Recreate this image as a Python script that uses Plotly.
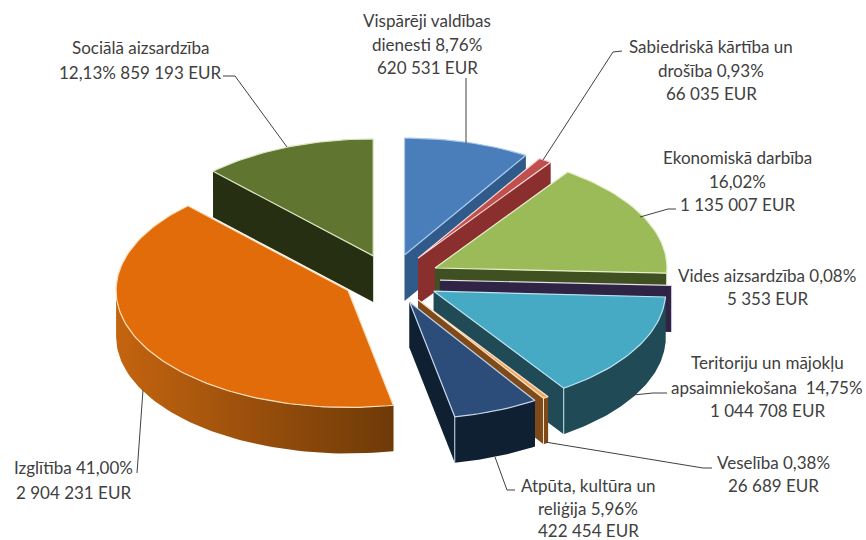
import math
import plotly.graph_objects as go

names = ["Vispārēji valdības dienesti", "Sabiedriskā kārtība un drošība", "Ekonomiskā darbība",
         "Vides aizsardzība", "Teritoriju un mājokļu apsaimniekošana", "Veselība",
         "Atpūta, kultūra un reliģija", "Izglītība", "Sociālā aizsardzība"]
values = [620531, 66035, 1135007, 5353, 1044708, 26689, 422454, 2904231, 859193]

label_lines = [
    ["Vispārēji valdības", "dienesti 8,76%", "620 531 EUR"],
    ["Sabiedriskā kārtība un", "drošība 0,93%", "66 035 EUR"],
    ["Ekonomiskā darbība", "16,02%", "1 135 007 EUR"],
    ["Vides aizsardzība 0,08%", "5 353 EUR"],
    ["Teritoriju un mājokļu", "apsaimniekošana  14,75%", "1 044 708 EUR"],
    ["Veselība 0,38%", "26 689 EUR"],
    ["Atpūta, kultūra un", "reliģija 5,96%", "422 454 EUR"],
    ["Izglītība 41,00%", "2 904 231 EUR"],
    ["Sociālā aizsardzība", "12,13% 859 193 EUR"],
]

# styling (top, cut face, wall left, wall right, edge)
top_col = ["#4A7EBB", "#C0504D", "#9BBB59", "#8064A2", "#46AAC5", "#F0A860", "#2C4D7A", "#E36C0A", "#5F7530"]
cut_col = ["#2F5A8A", "#8B2F2E", "#3F5120", "#2F2445", "#1F4A56", "#7F4A1A", "#0F2033", "#8A4408", "#272F12"]
wall_l = ["#2F5A8A", "#8B2F2E", "#4A6226", "#2F2445", "#1F4A56", "#7F4A1A", "#0F2033", "#C4640F", "#272F12"]
wall_r = ["#2F5A8A", "#8B2F2E", "#4A6226", "#2F2445", "#1F4A56", "#7F4A1A", "#0F2033", "#6E3A08", "#272F12"]
edge_col = ["#A9C8EE", "#F6DAD8", "#E6EFCE", "#E4E0E8", "#BFE3EE", "#FBE3CA", "#C8D6EA", "#FBE0BE", "#DCE6C4"]
draw_order = [0, 1, 2, 3, 4, 5, 6, 8, 7]

CX, CY = 391.3, 279.0     # pie centre in page pixels
RX, RY = 232.0, 117.0     # ellipse radii
EX, EY = 48.7, 24.9       # explosion offset
DEPTH = 46.0

leaders = [
    [(466, 78), (466, 143)],
    [(622, 51), (613, 52), (543, 160)],
    [(676, 209), (668, 209), (640, 217)],
    [(667, 393), (653, 393), (633, 395)],
    [(545, 442), (703, 468), (712, 468)],
    [(495, 457), (507, 490), (515, 490)],
    [(143, 390), (138, 460), (137, 473)],
    [(223, 76), (235, 76), (287, 147)],
]
label_pos = [
    (427, [20, 44, 67]),
    (711, [46, 70, 93]),
    (737, [157, 181, 204]),
    (767, [275, 298]),
    (767, [362, 387, 410]),
    (773, [462, 485]),
    (588, [485, 508, 530]),
    (73, [467, 492]),
    (140, [47, 72]),
]
FONT = dict(family="Lato", size=17, color="#404040")

total = sum(values)
fig = go.Figure()


def poly(xs, ys, fill=None, line=None, width=0, grad=None):
    kw = dict(x=xs, y=ys, mode="lines", hoverinfo="skip", showlegend=False,
              line=dict(color=line or "rgba(0,0,0,0)", width=width))
    if fill or grad:
        kw["fill"] = "toself"
        kw["fillcolor"] = fill
    if grad:
        kw["fillgradient"] = dict(type="horizontal", colorscale=[[0, grad[0]], [1, grad[1]]])
    fig.add_trace(go.Scatter(**kw))


cum = [0]
for v in values:
    cum.append(cum[-1] + v)

for i in draw_order:
    a0 = cum[i] / total * 2 * math.pi
    a1 = cum[i + 1] / total * 2 * math.pi
    m = (a0 + a1) / 2
    ax = CX + EX * math.sin(m)
    ay = CY - EY * math.cos(m)
    n = max(3, int((a1 - a0) * 40))
    ang = [a0 + (a1 - a0) * k / n for k in range(n + 1)]
    ex = [ax + RX * math.sin(t) for t in ang]
    ey = [ay - RY * math.cos(t) for t in ang]
    # cut faces
    for j in (0, -1):
        poly([ax, ex[j], ex[j], ax, ax], [ay, ey[j], ey[j] + DEPTH, ay + DEPTH, ay], fill=cut_col[i])
    # outer wall: only the part facing the viewer (angle between 90 and 270 degrees)
    lo, hi = max(a0, math.pi / 2), min(a1, 3 * math.pi / 2)
    if hi > lo:
        wa = [lo + (hi - lo) * k / 60 for k in range(61)]
        wx = [ax + RX * math.sin(t) for t in wa]
        wy = [ay - RY * math.cos(t) for t in wa]
        poly(wx + wx[::-1] + wx[:1], wy + [y + DEPTH for y in wy[::-1]] + wy[:1],
             fill=wall_r[i], grad=(wall_l[i], wall_r[i]))
    # front corner
    if math.pi / 2 < a1 < math.pi:
        poly([ex[-1], ex[-1]], [ey[-1], ey[-1] + DEPTH], line=edge_col[i], width=1)
    # top face
    poly([ax] + ex + [ax], [ay] + ey + [ay], fill=top_col[i], line=edge_col[i], width=1.2)

for pts in leaders:
    fig.add_trace(go.Scatter(x=[p[0] for p in pts], y=[p[1] for p in pts], mode="lines",
                             hoverinfo="skip", showlegend=False,
                             line=dict(color="#404040", width=1)))

for lines, (lx, ys) in zip(label_lines, label_pos):
    for t, y in zip(lines, ys):
        fig.add_annotation(x=lx, y=y, text=t, showarrow=False, xanchor="center", yanchor="middle",
                           font=FONT, xref="x", yref="y")

fig.update_layout(
    width=866, height=540, margin=dict(l=0, r=0, t=0, b=0),
    paper_bgcolor="white", plot_bgcolor="white", showlegend=False,
    xaxis=dict(range=[0, 866], visible=False, fixedrange=True),
    yaxis=dict(range=[540, 0], visible=False, fixedrange=True),
)
fig.write_html("out.html", config={"displayModeBar": False},
               post_script="document.body.style.margin='0';document.body.style.overflow='hidden';")
